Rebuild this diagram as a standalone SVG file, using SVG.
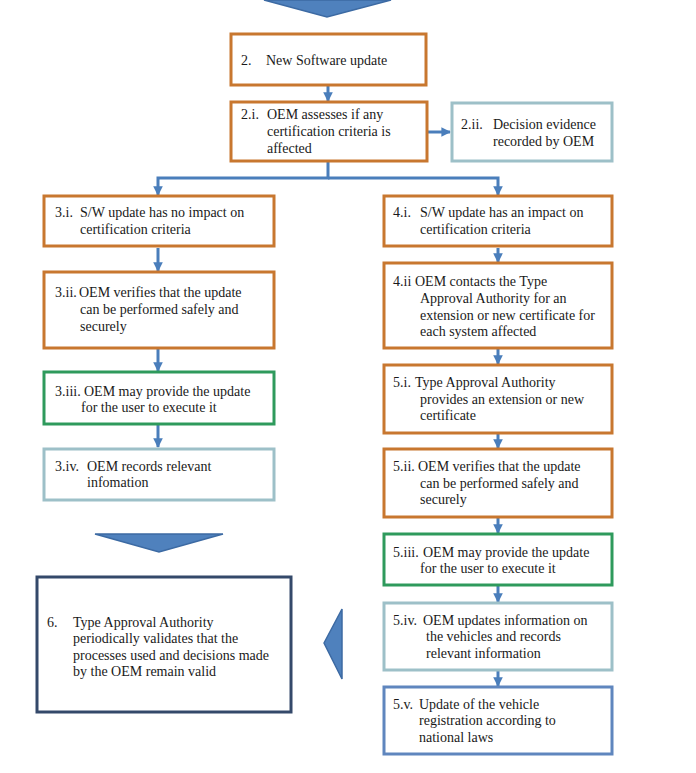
<svg xmlns="http://www.w3.org/2000/svg" width="696" height="773" viewBox="0 0 696 773">
<defs>
<style>
.box{fill:#fff;stroke-width:3}
.or{stroke:#C8772F}
.gr{stroke:#2E9A5C}
.lt{stroke:#9DC0C8}
.bl{stroke:#5F86BE}
.nv{stroke:#34496A}
text{font-family:"Liberation Serif","Times New Roman",serif;font-size:14px;fill:#1a1a1a}
.c{fill:none;stroke:#4A7EBB;stroke-width:3}
.big{fill:#4F81BD;stroke:#3C6AA3;stroke-width:1.5}
</style>
<marker id="ah" viewBox="0 0 10 10" refX="9" refY="5" markerWidth="3.2" markerHeight="3.2" orient="auto" markerUnits="strokeWidth">
<path d="M0,0 L10,5 L0,10 z" fill="#4A7EBB"/>
</marker>
</defs>

<g id="arrows-big">
<polygon class="big" points="264,0 391,0 327,17"/>
<polygon class="big" points="95,534 223,534 159,552"/>
<polygon class="big" points="324,643 342,609 342,679"/>
</g>

<g id="connectors">
<line class="c" x1="328" y1="86" x2="328" y2="101" marker-end="url(#ah)"/>
<line class="c" x1="428" y1="132" x2="450" y2="132" marker-end="url(#ah)"/>
<path class="c" d="M328,162 V178 H158 V195" marker-end="url(#ah)"/>
<path class="c" d="M328,178 H498 V195" marker-end="url(#ah)"/>
<line class="c" x1="158" y1="248" x2="158" y2="271" marker-end="url(#ah)"/>
<line class="c" x1="158" y1="349" x2="158" y2="371" marker-end="url(#ah)"/>
<line class="c" x1="158" y1="425" x2="158" y2="447" marker-end="url(#ah)"/>
<line class="c" x1="498" y1="248" x2="498" y2="262" marker-end="url(#ah)"/>
<line class="c" x1="498" y1="349" x2="498" y2="364" marker-end="url(#ah)"/>
<line class="c" x1="498" y1="434" x2="498" y2="448" marker-end="url(#ah)"/>
<line class="c" x1="498" y1="518" x2="498" y2="533" marker-end="url(#ah)"/>
<line class="c" x1="498" y1="586" x2="498" y2="602" marker-end="url(#ah)"/>
<line class="c" x1="498" y1="671" x2="498" y2="686" marker-end="url(#ah)"/>
</g>

<g id="n2">
<rect class="box or" x="231" y="34" width="195" height="51"/>
<text x="241" y="65">2.</text><text x="266" y="65">New Software update</text>
</g>

<g id="n2i">
<rect class="box or" x="231" y="102" width="196" height="59"/>
<text x="241" y="119">2.i.</text><text x="267" y="119">OEM assesses if any</text>
<text x="267" y="136">certification criteria is</text>
<text x="267" y="153">affected</text>
</g>

<g id="n2ii">
<rect class="box lt" x="452" y="103" width="160" height="58"/>
<text x="461" y="129">2.ii.</text><text x="493" y="129">Decision evidence</text>
<text x="493" y="146">recorded by OEM</text>
</g>

<g id="n3i">
<rect class="box or" x="44" y="196" width="230" height="50"/>
<text x="55" y="217">3.i.</text><text x="80" y="217">S/W update has no impact on</text>
<text x="80" y="234">certification criteria</text>
</g>

<g id="n3ii">
<rect class="box or" x="44" y="272" width="230" height="76"/>
<text x="55" y="297">3.ii.</text><text x="79" y="297">OEM verifies that the update</text>
<text x="80" y="314">can be performed safely and</text>
<text x="80" y="331">securely</text>
</g>

<g id="n3iii">
<rect class="box gr" x="44" y="372" width="230" height="52"/>
<text x="55" y="396">3.iii.</text><text x="84" y="396">OEM may provide the update</text>
<text x="81" y="412">for the user to execute it</text>
</g>

<g id="n3iv">
<rect class="box lt" x="44" y="449" width="230" height="51"/>
<text x="55" y="471">3.iv.</text><text x="87" y="471">OEM records relevant</text>
<text x="87" y="487">infomation</text>
</g>

<g id="n4i">
<rect class="box or" x="384" y="196" width="228" height="50"/>
<text x="393" y="217">4.i.</text><text x="420" y="217">S/W update has an impact on</text>
<text x="420" y="234">certification criteria</text>
</g>

<g id="n4ii">
<rect class="box or" x="384" y="263" width="228" height="85"/>
<text x="393" y="286">4.ii</text><text x="415" y="286">OEM contacts the Type</text>
<text x="420" y="303">Approval Authority for an</text>
<text x="420" y="320">extension or new certificate for</text>
<text x="420" y="336">each system affected</text>
</g>

<g id="n5i">
<rect class="box or" x="384" y="365" width="228" height="68"/>
<text x="393" y="387">5.i.</text><text x="415" y="387">Type Approval Authority</text>
<text x="420" y="404">provides an extension or new</text>
<text x="420" y="420">certificate</text>
</g>

<g id="n5ii">
<rect class="box or" x="384" y="449" width="228" height="68"/>
<text x="393" y="471">5.ii.</text><text x="418" y="471">OEM verifies that the update</text>
<text x="420" y="488">can be performed safely and</text>
<text x="420" y="504">securely</text>
</g>

<g id="n5iii">
<rect class="box gr" x="384" y="534" width="228" height="51"/>
<text x="393" y="557">5.iii.</text><text x="423" y="557">OEM may provide the update</text>
<text x="420" y="573">for the user to execute it</text>
</g>

<g id="n5iv">
<rect class="box lt" x="384" y="603" width="228" height="67"/>
<text x="393" y="625">5.iv.</text><text x="423" y="625">OEM updates information on</text>
<text x="426" y="641">the vehicles and records</text>
<text x="426" y="658">relevant information</text>
</g>

<g id="n5v">
<rect class="box bl" x="384" y="687" width="228" height="67"/>
<text x="393" y="709">5.v.</text><text x="419" y="709">Update of the vehicle</text>
<text x="419" y="725">registration according to</text>
<text x="419" y="742">national laws</text>
</g>

<g id="n6">
<rect class="box nv" x="37" y="577" width="254" height="135"/>
<text x="47" y="627">6.</text><text x="73" y="627">Type Approval Authority</text>
<text x="73" y="643">periodically validates that the</text>
<text x="73" y="660">processes used and decisions made</text>
<text x="73" y="676">by the OEM remain valid</text>
</g>
</svg>
